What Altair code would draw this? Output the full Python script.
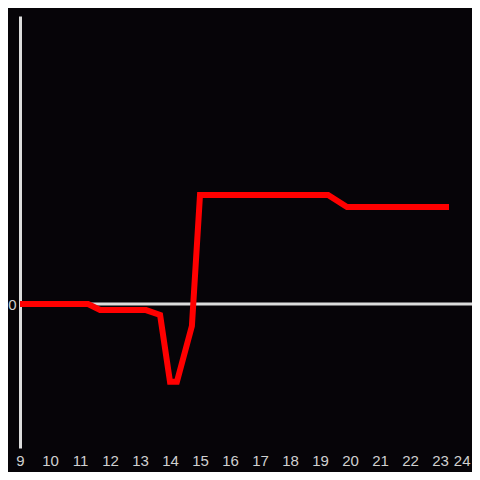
import altair as alt
import pandas as pd

hours = [9.0, 11.27, 11.67, 13.2, 13.67, 14.0, 14.23, 14.73, 15.0, 15.23, 19.27, 19.9, 23.3]
values = [0.0, 0.0, -0.042, -0.042, -0.076, -0.54, -0.54, -0.153, 0.757, 0.757, 0.757, 0.674, 0.674]
x_ticks = list(range(9, 25))

df = pd.DataFrame({"hour": hours, "value": values})

xscale = alt.Scale(domain=[9, 24], nice=False, zero=False)
yscale = alt.Scale(domain=[-1, 2], nice=False)

xaxis = alt.Axis(values=x_ticks, title=None, domain=False, ticks=False, grid=False,
                 labelPadding=5, labelFontSize=15, labelColor="#d0d0d0",
                 labelFont="Liberation Sans", format="d", labelFlush=False,
                 labelAlign=alt.expr("datum.value == 24 ? 'right' : 'center'"))
yaxis = alt.Axis(values=[0], title=None, domain=True, domainColor="#dcdcdc",
                 domainWidth=3, ticks=False, grid=False, labelPadding=4,
                 labelFontSize=15, labelColor="#d0d0d0", labelFont="Liberation Sans")

zero = alt.Chart(pd.DataFrame({"v": [0]})).mark_rule(color="#dcdcdc", strokeWidth=3).encode(
    y=alt.Y("v:Q", scale=yscale, axis=yaxis),
    x=alt.value(0),
    x2=alt.value(452),
)

line = alt.Chart(df).mark_line(color="#ff0000", strokeWidth=6).encode(
    x=alt.X("hour:Q", scale=xscale, axis=xaxis),
    y=alt.Y("value:Q", scale=yscale, axis=yaxis),
)

chart = alt.layer(zero, line).properties(
    width=450, height=432,
    autosize=alt.AutoSizeParams(type="none"),
    padding={"left": 12, "top": 8, "right": 2, "bottom": 24},
    background="#060408",
).configure_view(stroke=None)

chart.save("out.html", embed_options={"renderer": "svg", "actions": False})
